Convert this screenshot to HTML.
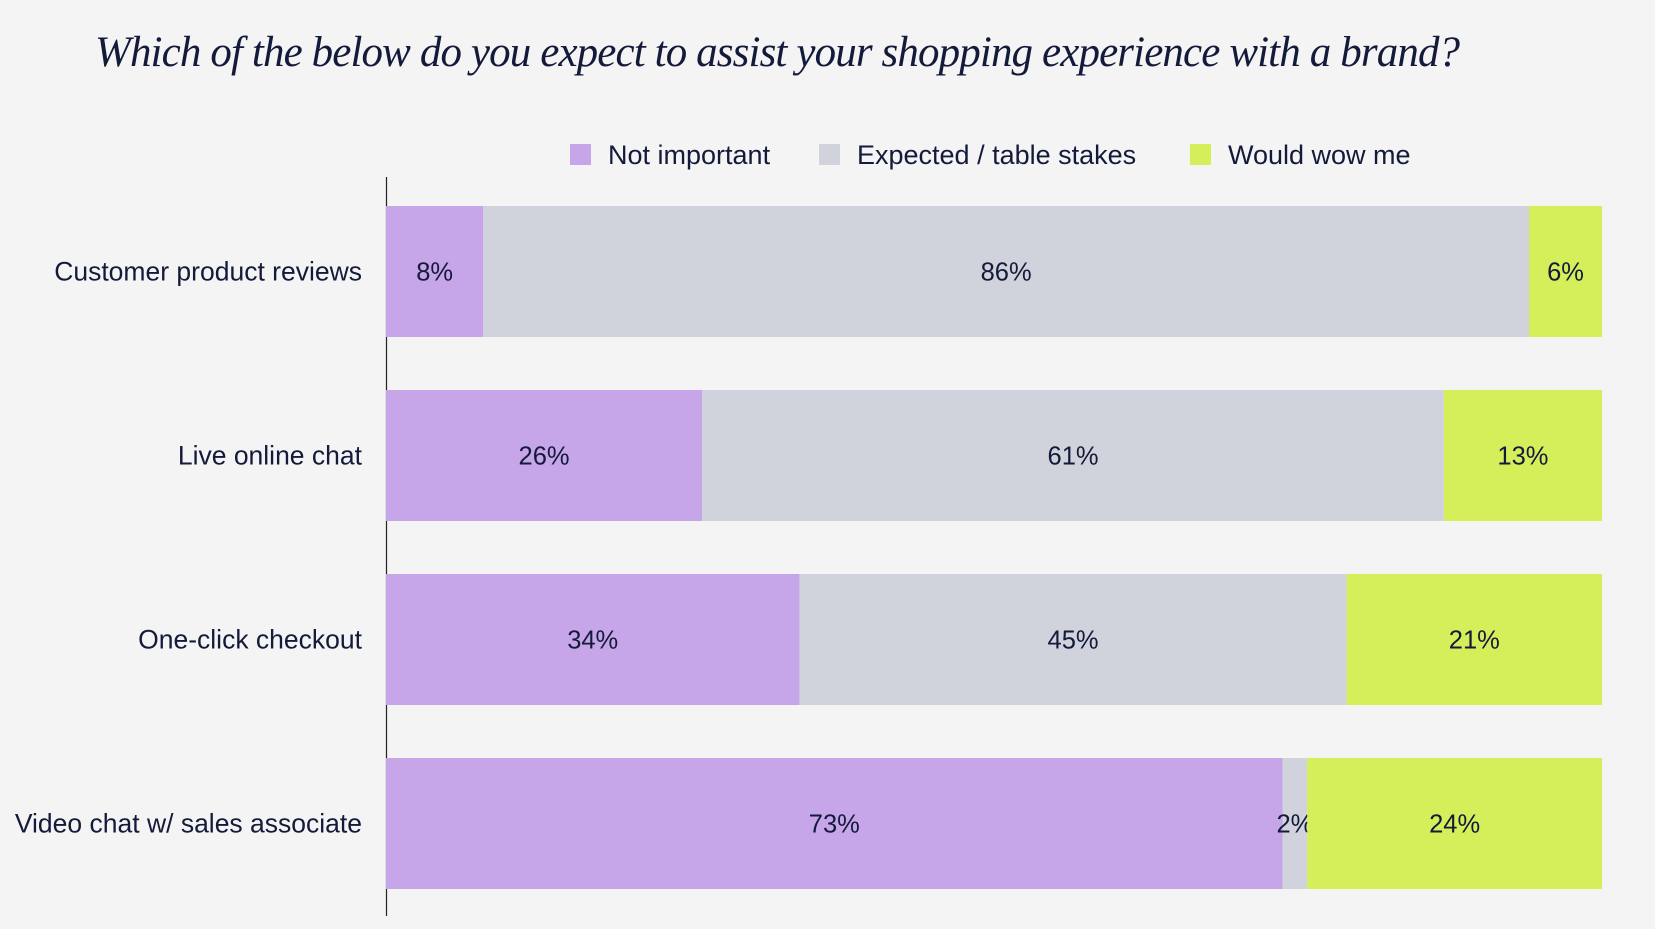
<!DOCTYPE html>
<html><head><meta charset="utf-8"><style>
body{margin:0;background:#f4f4f4;width:1655px;height:924px;overflow:hidden;font-family:"Liberation Sans",sans-serif}
</style></head><body>
<svg width="1655" height="924" xmlns="http://www.w3.org/2000/svg">
<rect width="1655" height="924" fill="#f4f4f4"/>
<text x="95" y="66" font-family="Liberation Serif, serif" font-style="italic" font-size="43" fill="#131a3a" letter-spacing="-0.88">Which of the below do you expect to assist your shopping experience with a brand?</text>
<g id="legend"></g>
<line x1="386.5" y1="177" x2="386.5" y2="916" stroke="#222" stroke-width="1.2"/>
<g id="bars"></g>
</svg>
<script>
const categories=["Customer product reviews","Live online chat","One-click checkout","Video chat w/ sales associate"];
const notImportant=[8,26,34,73];
const expected=[86,61,45,2];
const wow=[6,13,21,24];
const seriesNames=["Not important","Expected / table stakes","Would wow me"];
const colors=["#c6a5e8","#d0d3db","#d4ef5a"];
const NS="http://www.w3.org/2000/svg";
const x0=386,x1=1602,bandTop=206,bandStep=184,barH=131;
function mk(t,a,p){const e=document.createElementNS(NS,t);for(const k in a)e.setAttribute(k,a[k]);p.appendChild(e);return e;}
const bars=document.getElementById('bars');
const series=[notImportant,expected,wow];
categories.forEach((c,i)=>{
  const y=bandTop+i*bandStep;
  const lab=mk('text',{x:362,y:y+barH/2+9,'text-anchor':'end','font-size':26.5,fill:'#131a3a'},bars);
  lab.textContent=c;
  
  
  const tot=series.reduce((s,a)=>s+a[i],0);
  let cum=0;
  series.forEach((s,j)=>{
    const xa=x0+(x1-x0)*cum/tot, w=(x1-x0)*s[i]/tot;
    const r=mk('rect',{x:xa,y:y,width:w,height:barH,fill:colors[j]},bars);
    
    
    const t=mk('text',{x:xa+w/2,y:y+barH/2+9,'text-anchor':'middle','font-size':25.5,fill:'#131a3a'},bars);
    t.textContent=s[i]+'%';
    
    
    cum+=s[i];
  });
});
const lg=document.getElementById('legend');
const lx=[570,819,1190];
seriesNames.forEach((n,j)=>{
  const r=mk('rect',{x:lx[j],y:144,width:21,height:21,fill:colors[j]},lg);
  
  
  const t=mk('text',{x:lx[j]+38,y:164,'font-size':27,fill:'#131a3a'},lg);
  t.textContent=n;
  
  
});
</script>
</body></html>
